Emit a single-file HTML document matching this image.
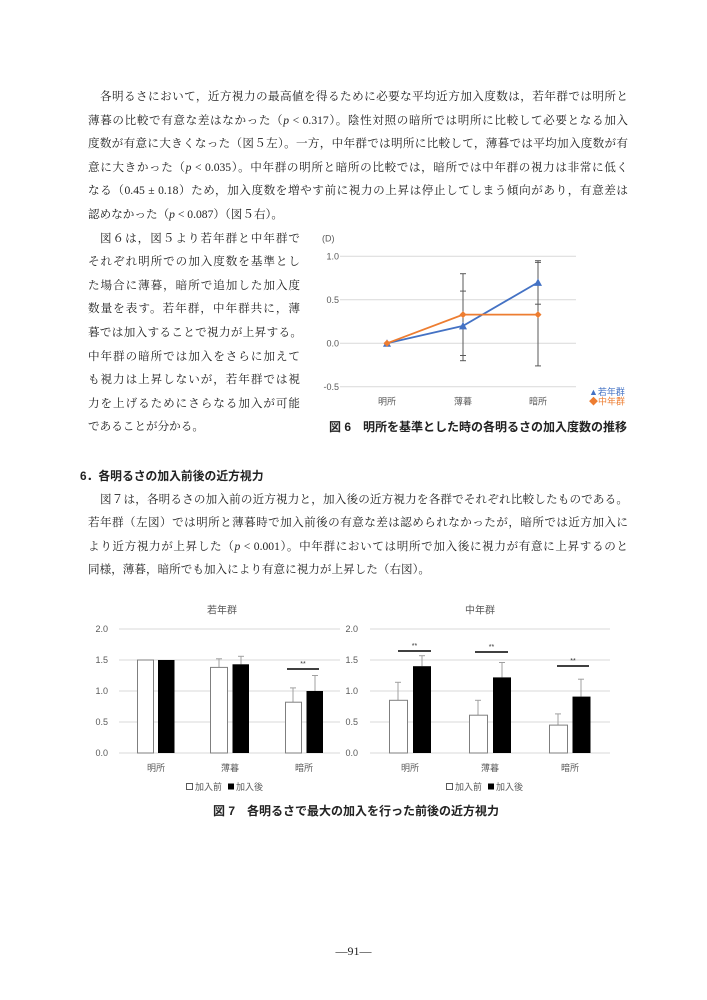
<!DOCTYPE html>
<html><head><meta charset="utf-8">
<style>
html,body{margin:0;padding:0;background:#fff;}
body{width:707px;height:1000px;position:relative;overflow:hidden;}
.t{position:absolute;height:18px;line-height:18px;font-family:"Liberation Serif","Noto Serif CJK SC",serif;font-size:11.6px;color:#222;text-align:justify;text-align-last:justify;white-space:nowrap;overflow:visible;}
.l{text-align:left;text-align-last:left;}
.w{left:88px;width:540px;}
.c{left:88px;width:212px;}
.ind{padding-left:12px;box-sizing:border-box;}
.h{position:absolute;font-family:"Liberation Sans","Noto Sans CJK JP",sans-serif;font-weight:bold;font-size:11.8px;color:#222;line-height:18px;height:18px;white-space:nowrap;}
svg{position:absolute;left:0;top:0;}
svg text{font-family:"Liberation Sans","Noto Sans CJK JP",sans-serif;}
</style></head><body>

<div class="t w ind" style="top:88px">各明るさにおいて，近方視力の最高値を得るために必要な平均近方加入度数は，若年群では明所と</div>
<div class="t w" style="top:111.6px">薄暮の比較で有意な差はなかった（<i>p</i> &lt; 0.317）。陰性対照の暗所では明所に比較して必要となる加入</div>
<div class="t w" style="top:135.2px">度数が有意に大きくなった（図５左）。一方，中年群では明所に比較して，薄暮では平均加入度数が有</div>
<div class="t w" style="top:158.8px">意に大きかった（<i>p</i> &lt; 0.035）。中年群の明所と暗所の比較では，暗所では中年群の視力は非常に低く</div>
<div class="t w" style="top:182.4px">なる（0.45 ± 0.18）ため，加入度数を増やす前に視力の上昇は停止してしまう傾向があり，有意差は</div>
<div class="t w l" style="top:206px">認めなかった（<i>p</i> &lt; 0.087）（図５右）。</div>

<div class="t c ind" style="top:229.6px">図６は，図５より若年群と中年群で</div>
<div class="t c" style="top:253.2px">それぞれ明所での加入度数を基準とし</div>
<div class="t c" style="top:276.8px">た場合に薄暮，暗所で追加した加入度</div>
<div class="t c" style="top:300.4px">数量を表す。若年群，中年群共に，薄</div>
<div class="t c" style="top:324px;width:214px">暮では加入することで視力が上昇する。</div>
<div class="t c" style="top:347.6px">中年群の暗所では加入をさらに加えて</div>
<div class="t c" style="top:371.2px">も視力は上昇しないが，若年群では視</div>
<div class="t c" style="top:394.8px">力を上げるためにさらなる加入が可能</div>
<div class="t l" style="top:418.4px;left:88px;width:212px">であることが分かる。</div>

<div class="h" style="left:329px;top:418px;font-size:12px">図 6　明所を基準とした時の各明るさの加入度数の推移</div>

<div class="h" style="left:80px;top:467px">6．各明るさの加入前後の近方視力</div>

<div class="t w ind" style="top:490.5px">図７は，各明るさの加入前の近方視力と，加入後の近方視力を各群でそれぞれ比較したものである。</div>
<div class="t w" style="top:514px">若年群（左図）では明所と薄暮時で加入前後の有意な差は認められなかったが，暗所では近方加入に</div>
<div class="t w" style="top:537.5px">より近方視力が上昇した（<i>p</i> &lt; 0.001）。中年群においては明所で加入後に視力が有意に上昇するのと</div>
<div class="t w l" style="top:561px">同様，薄暮，暗所でも加入により有意に視力が上昇した（右図）。</div>

<div class="h" style="left:213px;top:802px;font-size:12px">図 7　各明るさで最大の加入を行った前後の近方視力</div>

<div class="t l" style="top:942px;left:0;width:707px;text-align:center;text-align-last:center;font-size:12px">—91—</div>

<svg width="707" height="1000" viewBox="0 0 707 1000">
<!-- Fig 6 -->
<g stroke="#d9d9d9" stroke-width="1">
<line x1="340" y1="256.3" x2="576" y2="256.3"/>
<line x1="340" y1="299.8" x2="576" y2="299.8"/>
<line x1="340" y1="343.3" x2="576" y2="343.3"/>
<line x1="340" y1="386.8" x2="576" y2="386.8"/>
</g>
<g font-size="9" fill="#595959" text-anchor="end">
<text x="339" y="259.5">1.0</text>
<text x="339" y="303">0.5</text>
<text x="339" y="346.5">0.0</text>
<text x="339" y="390">-0.5</text>
</g>
<text x="322" y="241.5" font-size="9" fill="#595959">(D)</text>
<g font-size="9" fill="#595959" text-anchor="middle">
<text x="387" y="404.5">明所</text>
<text x="463" y="404.5">薄暮</text>
<text x="538" y="404.5">暗所</text>
</g>
<polyline points="387,343.3 463,325.9 538,282.4" fill="none" stroke="#4472C4" stroke-width="1.8"/>
<polyline points="387,343.3 463,314.6 538,314.6" fill="none" stroke="#ED7D31" stroke-width="1.8"/>
<g stroke="#595959" stroke-width="1" fill="none">
<line x1="463" y1="273.7" x2="463" y2="360.7"/>
<line x1="460" y1="273.7" x2="466" y2="273.7"/>
<line x1="460" y1="291.1" x2="466" y2="291.1"/>
<line x1="460" y1="355.5" x2="466" y2="355.5"/>
<line x1="460" y1="360.7" x2="466" y2="360.7"/>
<line x1="538" y1="260.7" x2="538" y2="365.9"/>
<line x1="535" y1="260.7" x2="541" y2="260.7"/>
<line x1="535" y1="262.4" x2="541" y2="262.4"/>
<line x1="535" y1="304.2" x2="541" y2="304.2"/>
<line x1="535" y1="365.9" x2="541" y2="365.9"/>
</g>
<g fill="#4472C4">
<polygon points="387,339.3 391,346.8 383,346.8"/>
<polygon points="463,321.9 467,329.4 459,329.4"/>
<polygon points="538,278.4 542,285.9 534,285.9"/>
</g>
<g fill="#ED7D31">
<polygon points="387,339.8 390.5,343.3 387,346.8 383.5,343.3"/>
<polygon points="463,311.1 466.5,314.6 463,318.1 459.5,314.6"/>
<polygon points="538,311.1 541.5,314.6 538,318.1 534.5,314.6"/>
</g>
<text x="589" y="395" font-size="9" fill="#4472C4">▲若年群</text>
<text x="589" y="404.5" font-size="9" fill="#ED7D31">◆中年群</text>

<!-- Fig 7 left -->
<text x="222" y="613.5" font-size="10" fill="#595959" text-anchor="middle">若年群</text>
<g stroke="#d9d9d9" stroke-width="1">
<line x1="119" y1="629" x2="340" y2="629"/>
<line x1="119" y1="660" x2="340" y2="660"/>
<line x1="119" y1="691" x2="340" y2="691"/>
<line x1="119" y1="722" x2="340" y2="722"/>
<line x1="119" y1="753" x2="340" y2="753"/>
</g>
<g font-size="9" fill="#595959" text-anchor="end">
<text x="108" y="632">2.0</text>
<text x="108" y="663">1.5</text>
<text x="108" y="694">1.0</text>
<text x="108" y="725">0.5</text>
<text x="108" y="756">0.0</text>
</g>
<g stroke="#a0a0a0" stroke-width="1">
<line x1="219" y1="667.4" x2="219" y2="658.8"/><line x1="216" y1="658.8" x2="222" y2="658.8"/>
<line x1="241" y1="664.3" x2="241" y2="656.3"/><line x1="238" y1="656.3" x2="244" y2="656.3"/>
<line x1="293" y1="702.2" x2="293" y2="687.9"/><line x1="290" y1="687.9" x2="296" y2="687.9"/>
<line x1="315" y1="691" x2="315" y2="675.5"/><line x1="312" y1="675.5" x2="318" y2="675.5"/>
</g>
<g fill="#fff" stroke="#7f7f7f" stroke-width="1">
<rect x="137.5" y="660" width="16" height="93"/>
<rect x="210.5" y="667.4" width="17" height="85.6"/>
<rect x="285.5" y="702.2" width="16" height="50.8"/>
</g>
<g fill="#000">
<rect x="158" y="660" width="16.5" height="93"/>
<rect x="232.5" y="664.3" width="16.5" height="88.7"/>
<rect x="306.5" y="691" width="16.5" height="62"/>
</g>
<line x1="287" y1="669" x2="319" y2="669" stroke="#000" stroke-width="1.5"/>
<text x="303" y="666" font-size="7" fill="#333" text-anchor="middle">**</text>
<g font-size="9" fill="#595959" text-anchor="middle">
<text x="156" y="771">明所</text>
<text x="230" y="771">薄暮</text>
<text x="304" y="771">暗所</text>
</g>
<rect x="186.5" y="783.5" width="6" height="6" fill="#fff" stroke="#595959" stroke-width="1"/>
<text x="195" y="790" font-size="9" fill="#595959">加入前</text>
<rect x="228" y="783.5" width="6" height="6" fill="#000"/>
<text x="236" y="790" font-size="9" fill="#595959">加入後</text>

<!-- Fig 7 right -->
<text x="480" y="613.5" font-size="10" fill="#595959" text-anchor="middle">中年群</text>
<g stroke="#d9d9d9" stroke-width="1">
<line x1="370" y1="629" x2="610" y2="629"/>
<line x1="370" y1="660" x2="610" y2="660"/>
<line x1="370" y1="691" x2="610" y2="691"/>
<line x1="370" y1="722" x2="610" y2="722"/>
<line x1="370" y1="753" x2="610" y2="753"/>
</g>
<g font-size="9" fill="#595959" text-anchor="end">
<text x="358" y="632">2.0</text>
<text x="358" y="663">1.5</text>
<text x="358" y="694">1.0</text>
<text x="358" y="725">0.5</text>
<text x="358" y="756">0.0</text>
</g>
<g stroke="#a0a0a0" stroke-width="1">
<line x1="398" y1="700.3" x2="398" y2="682.3"/><line x1="395" y1="682.3" x2="401" y2="682.3"/>
<line x1="422" y1="666.2" x2="422" y2="655.7"/><line x1="419" y1="655.7" x2="425" y2="655.7"/>
<line x1="478" y1="715.2" x2="478" y2="700.3"/><line x1="475" y1="700.3" x2="481" y2="700.3"/>
<line x1="502" y1="677.4" x2="502" y2="662.5"/><line x1="499" y1="662.5" x2="505" y2="662.5"/>
<line x1="558" y1="725.1" x2="558" y2="713.9"/><line x1="555" y1="713.9" x2="561" y2="713.9"/>
<line x1="581" y1="696.6" x2="581" y2="679.2"/><line x1="578" y1="679.2" x2="584" y2="679.2"/>
</g>
<g fill="#fff" stroke="#7f7f7f" stroke-width="1">
<rect x="389.5" y="700.3" width="18" height="52.7"/>
<rect x="469.5" y="715.2" width="18" height="37.8"/>
<rect x="549.5" y="725.1" width="18" height="27.9"/>
</g>
<g fill="#000">
<rect x="413" y="666.2" width="18" height="86.8"/>
<rect x="493" y="677.4" width="18" height="75.6"/>
<rect x="572.5" y="696.6" width="18" height="56.4"/>
</g>
<g stroke="#000" stroke-width="1.5">
<line x1="398" y1="651" x2="431" y2="651"/>
<line x1="475" y1="652" x2="508" y2="652"/>
<line x1="557" y1="666" x2="589" y2="666"/>
</g>
<g font-size="7" fill="#333" text-anchor="middle">
<text x="414.5" y="648">**</text>
<text x="491.5" y="649">**</text>
<text x="573" y="663">**</text>
</g>
<g font-size="9" fill="#595959" text-anchor="middle">
<text x="410" y="771">明所</text>
<text x="490" y="771">薄暮</text>
<text x="570" y="771">暗所</text>
</g>
<rect x="446.5" y="783.5" width="6" height="6" fill="#fff" stroke="#595959" stroke-width="1"/>
<text x="455" y="790" font-size="9" fill="#595959">加入前</text>
<rect x="488" y="783.5" width="6" height="6" fill="#000"/>
<text x="496" y="790" font-size="9" fill="#595959">加入後</text>
</svg>
</body></html>
